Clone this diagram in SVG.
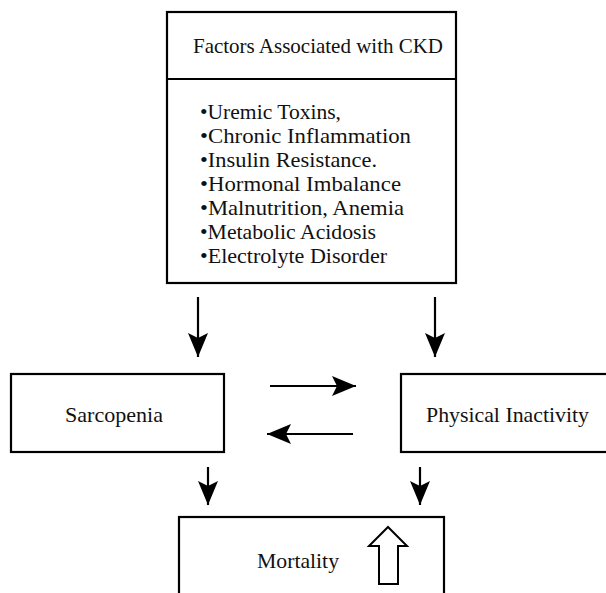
<svg xmlns="http://www.w3.org/2000/svg" width="606" height="593" viewBox="0 0 606 593">
<style>
.box{fill:#fff;stroke:#000;stroke-width:2.2}
.t{font-family:"Liberation Serif","Times New Roman",serif;font-size:21px;fill:#111}
.c{stroke:#000;stroke-width:2.2;fill:none}
</style>
<defs>
<marker id="ah" viewBox="0 0 24 20" refX="24" refY="10" markerWidth="24" markerHeight="20" markerUnits="userSpaceOnUse" orient="auto">
<path d="M0,0 L24,10 L0,20 L5,10 Z" fill="#000"/>
</marker>
</defs>
<rect width="606" height="593" fill="#fff"/>
<g id="factors">
<rect class="box" x="167" y="12" width="289" height="271"/>
<line class="c" x1="167" y1="79" x2="456" y2="79"/>
<text class="t" x="193" y="53" textLength="250" lengthAdjust="spacingAndGlyphs">Factors Associated with CKD</text>
<text class="t" x="200" y="119" textLength="141" lengthAdjust="spacingAndGlyphs">•Uremic Toxins,</text>
<text class="t" x="200" y="143" textLength="211" lengthAdjust="spacingAndGlyphs">•Chronic Inflammation</text>
<text class="t" x="200" y="167" textLength="177" lengthAdjust="spacingAndGlyphs">•Insulin Resistance.</text>
<text class="t" x="200" y="191" textLength="201" lengthAdjust="spacingAndGlyphs">•Hormonal Imbalance</text>
<text class="t" x="200" y="215" textLength="204" lengthAdjust="spacingAndGlyphs">•Malnutrition, Anemia</text>
<text class="t" x="200" y="239" textLength="176" lengthAdjust="spacingAndGlyphs">•Metabolic Acidosis</text>
<text class="t" x="200" y="263" textLength="187" lengthAdjust="spacingAndGlyphs">•Electrolyte Disorder</text>
</g>
<g id="sarcopenia">
<rect class="box" x="11" y="374" width="213" height="78"/>
<text class="t" x="65" y="422" textLength="98" lengthAdjust="spacingAndGlyphs">Sarcopenia</text>
</g>
<g id="inactivity">
<rect class="box" x="401" y="374" width="220" height="78"/>
<text class="t" x="426" y="422" textLength="163" lengthAdjust="spacingAndGlyphs">Physical Inactivity</text>
</g>
<g id="mortality">
<rect class="box" x="179" y="517" width="265" height="100"/>
<text class="t" x="257" y="568" textLength="82" lengthAdjust="spacingAndGlyphs">Mortality</text>
<polygon points="388,527 407,546 398,546 398,584 379,584 379,546 369,546" fill="#fff" stroke="#000" stroke-width="2"/>
</g>
<g id="connectors">
<line class="c" x1="198" y1="297" x2="198" y2="357" marker-end="url(#ah)"/>
<line class="c" x1="435" y1="297" x2="435" y2="357" marker-end="url(#ah)"/>
<line class="c" x1="270" y1="386" x2="356" y2="386" marker-end="url(#ah)"/>
<line class="c" x1="353" y1="434" x2="267" y2="434" marker-end="url(#ah)"/>
<line class="c" x1="208" y1="467" x2="208" y2="505" marker-end="url(#ah)"/>
<line class="c" x1="420" y1="467" x2="420" y2="505" marker-end="url(#ah)"/>
</g>
</svg>
